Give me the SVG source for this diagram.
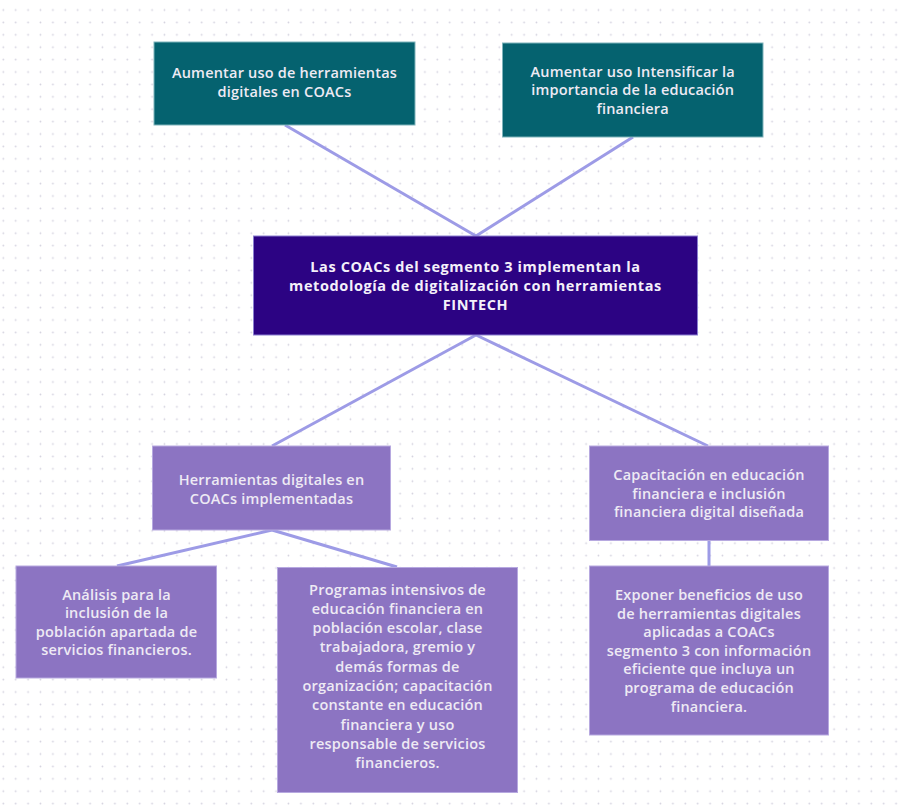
<svg xmlns="http://www.w3.org/2000/svg" width="903" height="809" viewBox="0 0 903 809">
  <style>
    .teal { fill: #05626f; stroke: #7fb3bb; stroke-width: 1; }
    .core { fill: #2c0383; stroke: #8a7fd0; stroke-width: 1; }
    .lilac { fill: #8c74c2; stroke: #b7a9e0; stroke-width: 1; }
    .label { font-family: "Open Sans", "Noto Sans", sans-serif; font-size: 14.5px; font-weight: 600; letter-spacing: 0.2px; fill: #eeeaf4; text-anchor: middle; }
    .strong { font-weight: bold; letter-spacing: 0.6px; fill: #f4f0fa; }
    .link { stroke: #9d9be6; stroke-width: 3; fill: none; stroke-linecap: butt; }
  </style>
  <defs>
    <pattern id="dots" width="12.4" height="12.4" patternUnits="userSpaceOnUse">
      <circle cx="3.3" cy="10" r="0.9" fill="#d3d1de"/>
    </pattern>
  </defs>

  <rect width="903" height="809" fill="#ffffff"/>
  <rect width="903" height="809" fill="url(#dots)"/>

  <g id="connectors">
    <line class="link" x1="285" y1="125" x2="476" y2="236"/>
    <line class="link" x1="633" y1="137" x2="476" y2="236"/>
    <line class="link" x1="476" y1="335" x2="272" y2="446"/>
    <line class="link" x1="476" y1="335" x2="708" y2="446"/>
    <line class="link" x1="272" y1="530" x2="117" y2="566"/>
    <line class="link" x1="272" y1="530" x2="397" y2="567"/>
    <line class="link" x1="709" y1="540" x2="709" y2="566"/>
  </g>

  <g id="goal-tools">
    <rect class="teal" x="154" y="42" width="261" height="83"/>
    <text class="label" x="284.5" y="78">Aumentar uso de herramientas</text>
    <text class="label" x="284.5" y="97">digitales en COACs</text>
  </g>

  <g id="goal-education">
    <rect class="teal" x="502.5" y="43" width="260.5" height="94"/>
    <text class="label" x="632.7" y="76.5">Aumentar uso Intensificar la</text>
    <text class="label" x="632.7" y="95">importancia de la educación</text>
    <text class="label" x="632.7" y="113.5">financiera</text>
  </g>

  <g id="purpose">
    <rect class="core" x="253.5" y="236" width="444" height="99"/>
    <text class="label strong" x="475.5" y="271.5">Las COACs del segmento 3 implementan la</text>
    <text class="label strong" x="475.5" y="291">metodología de digitalización con herramientas</text>
    <text class="label strong" x="475.5" y="310">FINTECH</text>
  </g>

  <g id="output-tools">
    <rect class="lilac" x="152.5" y="446" width="238" height="84"/>
    <text class="label" x="271.5" y="485">Herramientas digitales en</text>
    <text class="label" x="271.5" y="503.5">COACs implementadas</text>
  </g>

  <g id="output-training">
    <rect class="lilac" x="589.5" y="446" width="239" height="94.5"/>
    <text class="label" x="709" y="480">Capacitación en educación</text>
    <text class="label" x="709" y="498.5">financiera e inclusión</text>
    <text class="label" x="709" y="517">financiera digital diseñada</text>
  </g>

  <g id="activity-analysis">
    <rect class="lilac" x="16" y="566" width="200.5" height="112"/>
    <text class="label" x="116.5" y="599.5">Análisis para la</text>
    <text class="label" x="116.5" y="618">inclusión de la</text>
    <text class="label" x="116.5" y="636.5">población apartada de</text>
    <text class="label" x="116.5" y="655">servicios financieros.</text>
  </g>

  <g id="activity-programs">
    <rect class="lilac" x="277.5" y="567.5" width="240" height="225"/>
    <text class="label" x="397.5" y="594.5">Programas intensivos de</text>
    <text class="label" x="397.5" y="613.8">educación financiera en</text>
    <text class="label" x="397.5" y="633.1">población escolar, clase</text>
    <text class="label" x="397.5" y="652.4">trabajadora, gremio y</text>
    <text class="label" x="397.5" y="671.7">demás formas de</text>
    <text class="label" x="397.5" y="691">organización; capacitación</text>
    <text class="label" x="397.5" y="710.3">constante en educación</text>
    <text class="label" x="397.5" y="729.6">financiera y uso</text>
    <text class="label" x="397.5" y="748.9">responsable de servicios</text>
    <text class="label" x="397.5" y="768.2">financieros.</text>
  </g>

  <g id="activity-benefits">
    <rect class="lilac" x="589.5" y="566" width="239" height="169"/>
    <text class="label" x="709" y="600">Exponer beneficios de uso</text>
    <text class="label" x="709" y="618.6">de herramientas digitales</text>
    <text class="label" x="709" y="637.2">aplicadas a COACs</text>
    <text class="label" x="709" y="655.8">segmento 3 con información</text>
    <text class="label" x="709" y="674.4">eficiente que incluya un</text>
    <text class="label" x="709" y="693">programa de educación</text>
    <text class="label" x="709" y="711.6">financiera.</text>
  </g>
</svg>
